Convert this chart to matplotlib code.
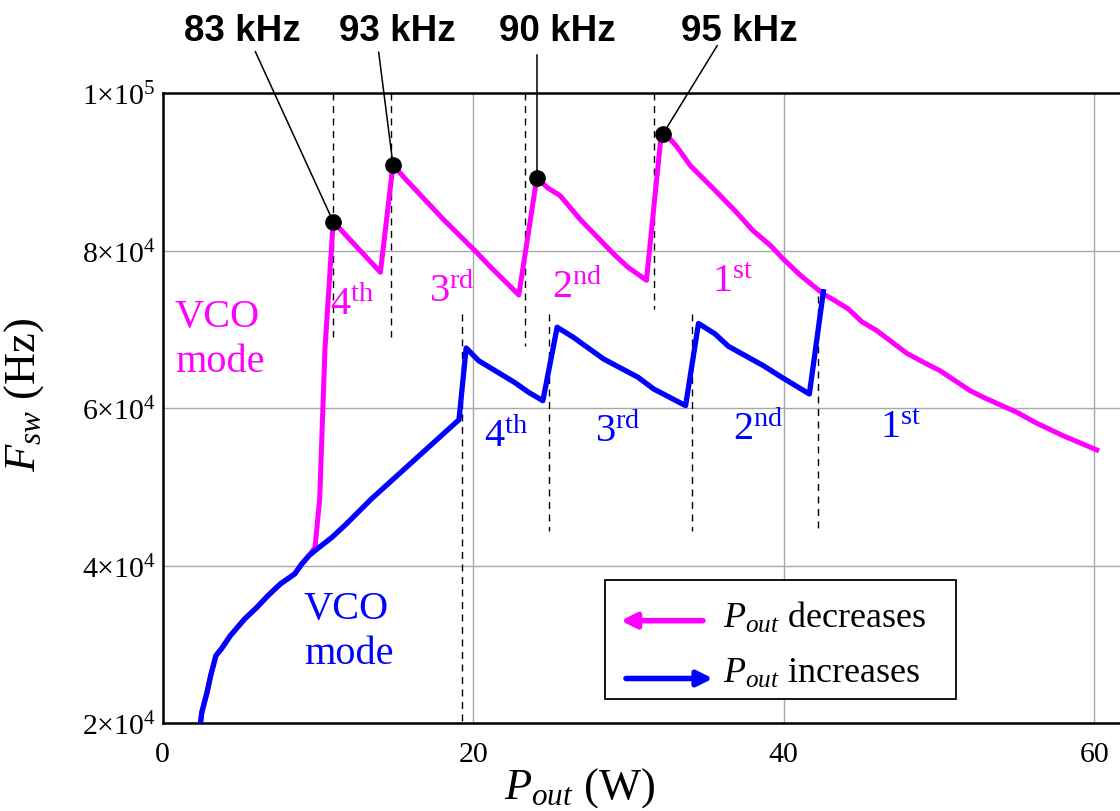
import matplotlib
matplotlib.use("Agg")
import matplotlib.pyplot as plt
from matplotlib.patches import Rectangle

plt.rcParams["font.family"] = "Liberation Serif"
plt.rcParams["mathtext.fontset"] = "custom"
plt.rcParams["mathtext.rm"] = "Liberation Serif"
plt.rcParams["mathtext.it"] = "Liberation Serif:italic"
plt.rcParams["mathtext.bf"] = "Liberation Serif:bold"

# P_out increases (blue)
inc_p = [2.46, 2.53, 2.69, 2.87, 3.10, 3.44, 3.79, 4.37, 5.29, 6.09, 6.79, 7.59,
         8.51, 8.97, 9.43, 10.01, 10.92, 11.84, 13.45, 19.09,
         19.55, 20.35, 22.65, 23.57, 24.49,
         25.41, 26.45, 28.40, 30.62, 31.62, 33.68,
         34.51, 35.58, 36.43, 38.69, 39.87, 41.65, 42.55]
inc_f = [20300, 21400, 22600, 23950, 26050, 28600, 29450, 31130, 33250, 34740, 36210, 37690,
         38960, 40230, 41280, 42220, 43620, 45310, 48480, 58540,
         67640, 66030, 63290, 62020, 60950,
         70270, 69000, 66240, 63920, 62440, 60320,
         70750, 69420, 67860, 65390, 63920, 61800, 74780]

# P_out decreases (magenta)
dec_p = [2.46, 2.53, 2.69, 2.87, 3.10, 3.44, 3.79, 4.37, 5.29, 6.09, 6.79, 7.59,
         8.51, 8.97, 9.43, 9.82, 10.12, 10.46, 10.99,
         14.03, 14.84, 15.64, 18.06, 20.12, 21.04, 22.94,
         24.10, 24.82, 25.60, 26.97, 28.01, 29.05, 29.97, 31.16,
         32.08, 32.22, 32.49, 33.07, 33.99, 35.49, 36.86, 38.02, 39.16, 39.97,
         41.05, 42.02, 42.55, 43.19, 44.16, 45.02, 45.99, 47.92, 48.99, 50.06,
         52.00, 52.85, 55.00, 56.29, 57.98, 60.15]
dec_f = [20300, 21400, 22600, 23950, 26050, 28600, 29450, 31130, 33250, 34740, 36210, 37690,
         38960, 40230, 41280, 42350, 48480, 67510, 83670,
         77250, 90900, 89090, 84010, 79990, 78080, 74370,
         89210, 87940, 86970, 83790, 81690, 79570, 77880, 76230,
         94160, 94800, 94580, 93310, 90770, 87820, 85060, 82530, 80620, 78930,
         76900, 75340, 74490, 73770, 72590, 70980, 69840, 66970, 65830, 64760,
         62220, 61380, 59480, 58090, 56510, 54700]

# marked peaks and their labels
peak_p = [10.99, 14.84, 24.10, 32.22]
peak_f = [83670, 90900, 89210, 94800]
peak_text = ["83 kHz", "93 kHz", "90 kHz", "95 kHz"]
text_p = [5.12, 15.10, 25.40, 37.12]
lead_p = [5.98, 13.92, 24.10, 35.71]
lead_f = [105240, 105165, 104820, 106000]

# dashed transition markers
dec_dash_p = [10.97, 14.71, 23.34, 31.62]
dec_dash_lo = [69000, 69040, 67930, 72590]
inc_dash_p = [19.27, 24.91, 34.07, 42.18]
inc_dash_hi = [71960, 71960, 71960, 74280]
inc_dash_lo = [20000, 44460, 44460, 44460]

harm = ["4", "3", "2", "1"]
harm_sup = ["th", "rd", "nd", "st"]
dec_harm_p = [10.81, 17.13, 25.07, 35.37]
dec_harm_f = [71960, 73640, 74070, 74910]
inc_harm_p = [20.70, 27.82, 36.75, 46.20]
inc_harm_f = [55240, 55880, 56090, 56310]

yticks = [20000, 40000, 60000, 80000, 100000]
ytick_labels = [r"$2{\times}10^{4}$", r"$4{\times}10^{4}$", r"$6{\times}10^{4}$",
                r"$8{\times}10^{4}$", r"$1{\times}10^{5}$"]
xticks = [0, 20, 40, 60]

MAG = "#ff00ff"
BLU = "#0000ff"

fig = plt.figure(figsize=(11.2, 8.12), dpi=100)
ax = fig.add_axes([0.1451, 0.1080, 0.8549, 0.7762])
ax.set_xlim(0, 61.65)
ax.set_ylim(20000, 100000)

ax.set_xticks(xticks)
ax.set_xticklabels([str(v) for v in xticks])
ax.set_yticks(yticks)
ax.set_yticklabels(ytick_labels)
ax.tick_params(length=0, labelsize=21.5)
ax.tick_params(axis="x", pad=13)
ax.tick_params(axis="y", pad=5)
ax.grid(True, color="#a8a8a8", lw=1.0)
ax.set_axisbelow(True)
for s in ["left", "bottom", "top"]:
    ax.spines[s].set_linewidth(1.8)
ax.spines["right"].set_visible(False)

for x, lo in zip(dec_dash_p, dec_dash_lo):
    ax.plot([x, x], [100000, lo], color="black", lw=1.0, ls=(0, (5, 4)), zorder=2)
for x, hi, lo in zip(inc_dash_p, inc_dash_hi, inc_dash_lo):
    ax.plot([x, x], [hi, lo], color="black", lw=1.0, ls=(0, (5, 4)), zorder=2)

ax.plot(dec_p, dec_f, color=MAG, lw=3.6, zorder=3)
ax.plot(inc_p, inc_f, color=BLU, lw=3.8, zorder=4)

for px, pf, lx, lf, tx, t in zip(peak_p, peak_f, lead_p, lead_f, text_p, peak_text):
    ax.plot([lx, px], [lf, pf], color="black", lw=1.1, clip_on=False, zorder=5)
    ax.text(tx, 107900, t, family="Liberation Sans", weight="bold", fontsize=26.5,
            ha="center", va="center")
ax.plot(peak_p, peak_f, "o", color="black", ms=11, zorder=6, clip_on=False)

for h, sup, x, f in zip(harm, harm_sup, dec_harm_p, dec_harm_f):
    ax.text(x, f, h + r"$^{\rm " + sup + "}$", color=MAG, fontsize=29, va="baseline")
for h, sup, x, f in zip(harm, harm_sup, inc_harm_p, inc_harm_f):
    ax.text(x, f, h + r"$^{\rm " + sup + "}$", color=BLU, fontsize=29, va="baseline")

ax.text(0.80, 68800, "VCO\nmode", color=MAG, fontsize=29, va="center", linespacing=1.3)
ax.text(9.09, 31700, "VCO\nmode", color=BLU, fontsize=29, va="center", linespacing=1.3)

ax.set_xlabel(r"$P_{out}$ (W)", fontsize=32, va="baseline")
ax.xaxis.set_label_coords(0.436, -0.117)
ax.set_ylabel(r"$F_{sw}$ (Hz)", fontsize=32, va="baseline")
ax.yaxis.set_label_coords(-0.1332, 0.5225)

# legend box drawn by hand
ax.add_patch(Rectangle((0.4617, 0.0386), 0.3667, 0.1888, transform=ax.transAxes,
                       facecolor="white", edgecolor="black", lw=1.3, zorder=7))
ax.annotate("", xy=(0.4786, 0.1628), xytext=(0.5644, 0.1628), xycoords="axes fraction",
            arrowprops=dict(arrowstyle="-|>,head_length=0.9,head_width=0.45",
                            color=MAG, lw=4, shrinkA=0, shrinkB=0), zorder=8)
ax.annotate("", xy=(0.5748, 0.0711), xytext=(0.4841, 0.0711), xycoords="axes fraction",
            arrowprops=dict(arrowstyle="-|>,head_length=0.9,head_width=0.45",
                            color=BLU, lw=4, shrinkA=0, shrinkB=0), zorder=8)
ax.text(0.5849, 0.1523, r"$P_{out}$ decreases", transform=ax.transAxes, fontsize=26,
        va="baseline", zorder=9)
ax.text(0.5849, 0.0660, r"$P_{out}$ increases", transform=ax.transAxes, fontsize=26,
        va="baseline", zorder=9)

fig.savefig("out.png", dpi=100)
